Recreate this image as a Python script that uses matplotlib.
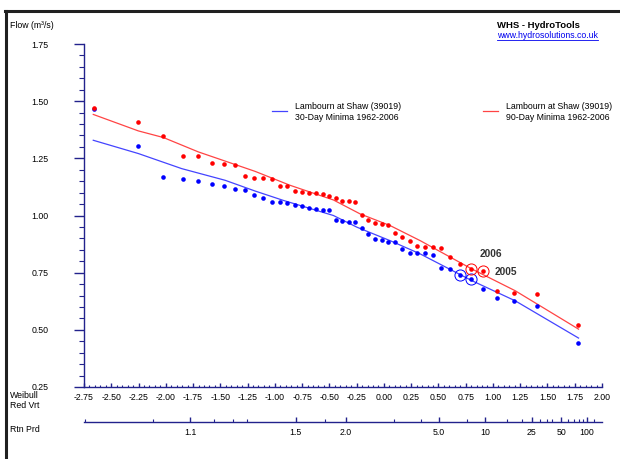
import numpy as np
import matplotlib
matplotlib.use("Agg")
import matplotlib.pyplot as plt
from matplotlib.lines import Line2D
from matplotlib.ticker import MultipleLocator, FormatStrFormatter

plt.rcParams['font.family'] = ['Liberation Sans', 'DejaVu Sans']
plt.rcParams['axes.unicode_minus'] = False

# annual minima, sorted from highest to lowest (m3/s)
flow90 = [1.471, 1.411, 1.347, 1.262, 1.259, 1.228, 1.225, 1.222, 1.172, 1.165,
          1.164, 1.159, 1.129, 1.127, 1.107, 1.101, 1.100, 1.098, 1.092, 1.085,
          1.076, 1.065, 1.064, 1.058, 1.001, 0.982, 0.966, 0.962, 0.957, 0.922,
          0.905, 0.889, 0.868, 0.861, 0.861, 0.857, 0.820, 0.788, 0.766, 0.757,
          0.672, 0.659, 0.655, 0.522]
flow30 = [1.464, 1.306, 1.170, 1.159, 1.150, 1.136, 1.128, 1.117, 1.111, 1.091,
          1.076, 1.061, 1.058, 1.054, 1.047, 1.041, 1.032, 1.028, 1.026, 1.023,
          0.980, 0.977, 0.972, 0.971, 0.944, 0.920, 0.899, 0.893, 0.886, 0.882,
          0.852, 0.835, 0.835, 0.834, 0.829, 0.769, 0.766, 0.740, 0.724, 0.679,
          0.640, 0.626, 0.604, 0.442]

# fitted curves (reduced variate, flow)
fit90_x = [-2.665, -2.252, -2.022, -1.701, -1.456, -1.181, -0.860, -0.463,
           -0.218, 0.057, 0.333, 0.807, 1.204, 1.785]
fit90 = [1.442, 1.370, 1.341, 1.278, 1.238, 1.193, 1.132, 1.068,
         1.007, 0.956, 0.890, 0.766, 0.671, 0.503]
fit30_x = [-2.665, -2.252, -1.854, -1.456, -1.181, -0.922, -0.463, -0.248,
           0.057, 0.333, 0.807, 1.204, 1.785]
fit30 = [1.329, 1.271, 1.205, 1.154, 1.107, 1.066, 1.000, 0.949,
         0.890, 0.832, 0.715, 0.627, 0.464]

# highlighted years (index into the sorted lists)
hl90 = {'2006': 38, '2005': 39}
hl30 = [37, 38]

rp_major = [1.1, 1.5, 2.0, 5.0, 10, 25, 50, 100]
rp_labels = ['1.1', '1.5', '2.0', '5.0', '10', '25', '50', '100']
rp_minor = [1.01, 1.05, 1.15, 1.2, 1.25, 1.75, 3, 4, 7.5, 15, 20, 30, 35, 40,
            60, 70, 80, 90, 125]

K = 0.25


def to_T(x):
    x = np.asarray(x, dtype=float)
    return np.exp(np.clip(1 + K * x, 1e-6, None) ** 4)


def from_T(T):
    T = np.asarray(T, dtype=float)
    return (np.log(np.clip(T, 1 + 1e-9, None)) ** K - 1) / K


def plot_pos(n):
    # Gringorten plotting positions, highest flow first
    i = np.arange(n, 0, -1)
    F = (i - 0.44) / (n + 0.12)
    return from_T(1.0 / F)


navy = '#22228c'
blue = '#0000ff'
red = '#ff0000'
W, H = 620, 459

fig = plt.figure(figsize=(6.2, 4.59), dpi=100)
ax = fig.add_axes([84 / W, 1 - 387 / H, 518 / W, 343 / H])

x30 = plot_pos(len(flow30))
x90 = plot_pos(len(flow90))

ax.plot(fit30_x, fit30, color='#4444ff', lw=0.9)
ax.plot(fit90_x, fit90, color='#ff4444', lw=0.9)
ax.plot(x30, flow30, 'o', color=blue, ms=3.3, mew=0)
ax.plot(x90, flow90, 'o', color=red, ms=3.3, mew=0)

for k in hl30:
    ax.plot(x30[k], flow30[k], 'o', mfc='none', mec=blue, ms=8, mew=0.7)
for yr, k in hl90.items():
    ax.plot(x90[k], flow90[k], 'o', mfc='none', mec=red, ms=8, mew=0.7)

ax.annotate('2006', (x90[hl90['2006']], flow90[hl90['2006']]), xytext=(6, 9),
            textcoords='offset points', fontsize=7.3, fontweight='bold', color='#333333')
ax.annotate('2005', (x90[hl90['2005']], flow90[hl90['2005']]), xytext=(8, -1),
            textcoords='offset points', fontsize=7.3, fontweight='bold', color='#333333',
            va='center')

ax.set_xlim(-2.75, 2.0)
ax.set_ylim(0.25, 1.75)
for s in ['top', 'right']:
    ax.spines[s].set_visible(False)
for s in ['left', 'bottom']:
    ax.spines[s].set_color(navy)
    ax.spines[s].set_linewidth(1.0)

ax.xaxis.set_major_locator(MultipleLocator(0.25))
ax.xaxis.set_minor_locator(MultipleLocator(0.05))
ax.yaxis.set_major_locator(MultipleLocator(0.25))
ax.yaxis.set_minor_locator(MultipleLocator(0.05))
ax.xaxis.set_major_formatter(FormatStrFormatter('%.2f'))
ax.yaxis.set_major_formatter(FormatStrFormatter('%.2f'))
ax.tick_params(axis='x', which='major', direction='in', length=3, width=1,
               color=navy, labelsize=6.3, pad=4)
ax.tick_params(axis='x', which='minor', direction='in', length=1.6, width=0.8, color=navy)
ax.tick_params(axis='y', which='major', direction='out', length=7.5, width=1,
               color=navy, labelsize=6.3, pad=18)
ax.tick_params(axis='y', which='minor', direction='out', length=3.8, width=0.8, color=navy)

sec = ax.secondary_xaxis(-35 / 343, functions=(to_T, from_T))
sec.set_xticks(rp_major, labels=rp_labels)
sec.set_xticks(rp_minor, minor=True)
sec.spines['bottom'].set_color(navy)
sec.spines['bottom'].set_linewidth(1.0)
sec.tick_params(axis='x', which='major', direction='in', length=3.5, width=1,
                color=navy, labelsize=6.3, pad=4)
sec.tick_params(axis='x', which='minor', direction='in', length=2, width=0.8, color=navy)
sec.tick_params(axis='x', which='minor', labelbottom=False)


# side texts
def ftext(x, y, s, **kw):
    kw.setdefault('fontsize', 6.3)
    return fig.text(x / W, 1 - y / H, s, va='center', ha='left', **kw)


ftext(10, 26, 'Flow (m³/s)')
ftext(10, 395, 'Weibull')
ftext(10, 406, 'Red Vrt')
ftext(10, 430, 'Rtn Prd')
ftext(497, 25, 'WHS - HydroTools', fontweight='bold', fontsize=6.8)
url = ftext(497, 36, 'www.hydrosolutions.co.uk', color='#0000ee')

# legend
for x0, col, l1, l2 in [(272, '#4444ff', 'Lambourn at Shaw (39019)', '30-Day Minima 1962-2006'),
                        (483, '#ff4444', 'Lambourn at Shaw (39019)', '90-Day Minima 1962-2006')]:
    fig.add_artist(Line2D([x0 / W, (x0 + 15) / W], [1 - 110.5 / H] * 2, color=col, lw=0.9))
    ftext(x0 + 23, 106.5, l1)
    ftext(x0 + 23, 117.3, l2)

# window frame
fig.add_artist(Line2D([6 / W, 6 / W], [0, 1 - 10.5 / H], color='#202020', lw=2.2))
fig.add_artist(Line2D([5 / W, 1], [1 - 10.5 / H] * 2, color='#202020', lw=2.2))

fig.canvas.draw()
bb = url.get_window_extent()
fig.add_artist(Line2D([bb.x0 / W, bb.x1 / W], [(bb.y0 + 0.3) / H] * 2, color='#0000ee', lw=0.6))

fig.savefig('out.png', dpi=100)
